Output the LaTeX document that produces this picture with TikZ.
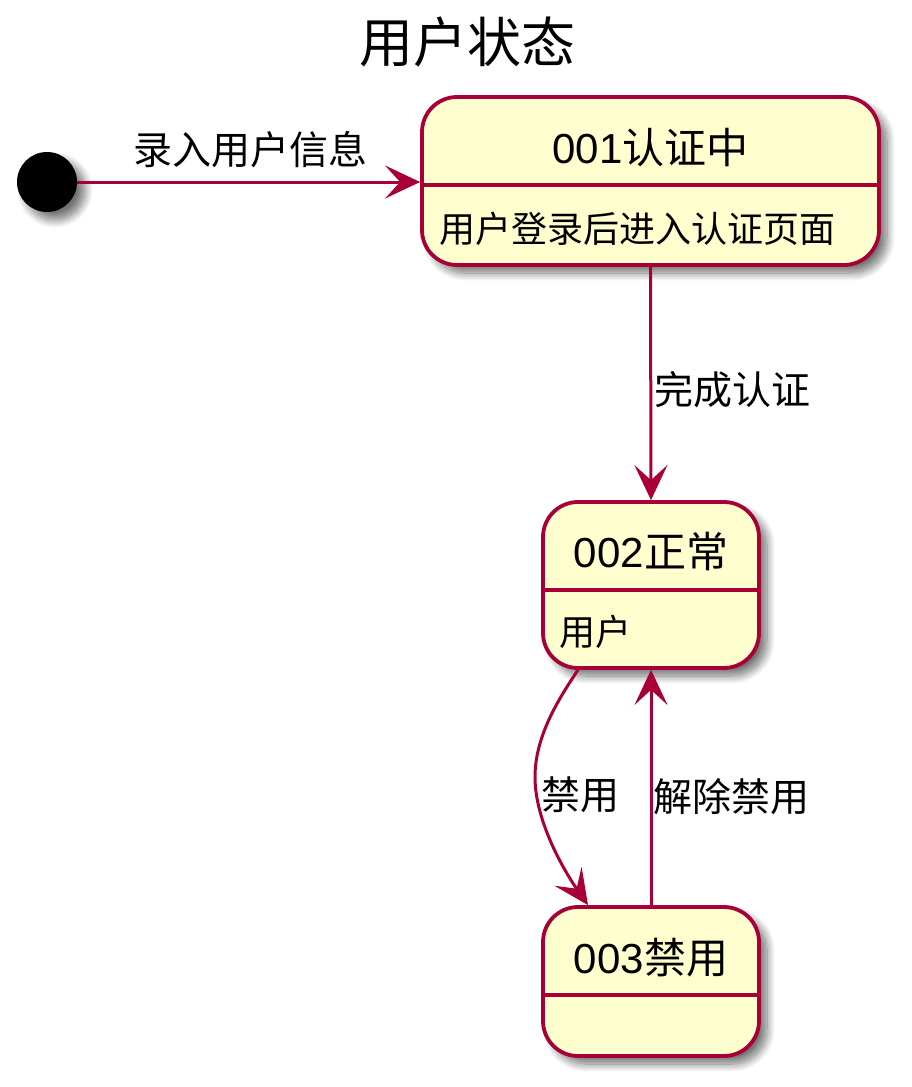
\documentclass[tikz,border=0pt]{standalone}
\usepackage{fontspec}
\setmainfont{Liberation Sans}
\newfontfamily\cjk{Noto Sans CJK SC}
\usetikzlibrary{arrows.meta,shadows.blur,calc}
\definecolor{umlborder}{HTML}{A80036}
\definecolor{umlfill}{HTML}{FEFECE}
\tikzset{
  statebox/.style={draw=umlborder, fill=umlfill, line width=3.8pt, rounded corners=35pt,
    blur shadow={shadow xshift=8pt, shadow yshift=-8pt, shadow blur radius=8pt, shadow blur steps=14, shadow opacity=55},
    inner sep=0pt},
  divider/.style={draw=umlborder, line width=3.6pt},
  conn/.style={draw=umlborder, line width=3pt, -{Stealth[length=35pt,width=33pt,inset=15pt]}},
  stitle/.style={font=\fontsize{42}{48}\selectfont, text=black},
  sbody/.style={font=\cjk\fontsize{36}{40}\selectfont, anchor=west},
  elabel/.style={font=\cjk\fontsize{39}{44}\selectfont},
}
\begin{document}
\begin{tikzpicture}[x=1pt,y=-1pt]
\useasboundingbox (0,0) rectangle (912,1087);
\node[font=\cjk\fontsize{54}{60}\selectfont] (title) at (467,42) {用户状态};
% initial state
\node[circle, fill=black, minimum size=60pt, inner sep=0pt,
  blur shadow={shadow xshift=8pt, shadow yshift=-8pt, shadow blur radius=8pt, shadow blur steps=14, shadow opacity=55}] (init) at (47,182) {};
% states
\node[statebox, minimum width=457pt, minimum height=168pt] (s1) at (650.5,181) {};
\node[statebox, minimum width=216pt, minimum height=166pt] (s2) at (651,585) {};
\node[statebox, minimum width=216pt, minimum height=149pt] (s3) at (651,981.5) {};
% dividers
\draw[divider] (s1.west |- 0,185) coordinate (d1a) -- (s1.east |- 0,185) coordinate (d1b);
\draw[divider] (s2.west |- 0,590) coordinate (d2a) -- (s2.east |- 0,590) coordinate (d2b);
\draw[divider] (s3.west |- 0,995) coordinate (d3a) -- (s3.east |- 0,995) coordinate (d3b);
% texts
\node[stitle] (t1) at (650.5,148) {001{\cjk 认证中}};
\node[sbody] (b1) at (436,229) {用户登录后进入认证页面};
\node[stitle] (t2) at (651,552) {002{\cjk 正常}};
\node[sbody] (b2) at (556,632) {用户};
\node[stitle] (t3) at (651,958) {003{\cjk 禁用}};
% connectors
\draw[conn] (init.east) -- (s1.west |- init.east);
\node[elabel] (l1) at (250,150) {录入用户信息};
\draw[conn] (s1.south) -- (s2.north);
\node[elabel] (l2) at (732,390) {完成认证};
\coordinate (bend) at (535,777);
\draw[conn] ([xshift=-73pt]s2.south) .. controls (560,697) and (535,735) .. (bend)
  .. controls (535,822) and (565,872) .. ([xshift=-63pt]s3.north);
\node[elabel] (l3) at (580,795) {禁用};
\draw[conn] (s3.north) -- (s2.south);
\node[elabel] (l4) at (731,797) {解除禁用};
\end{tikzpicture}
\end{document}
